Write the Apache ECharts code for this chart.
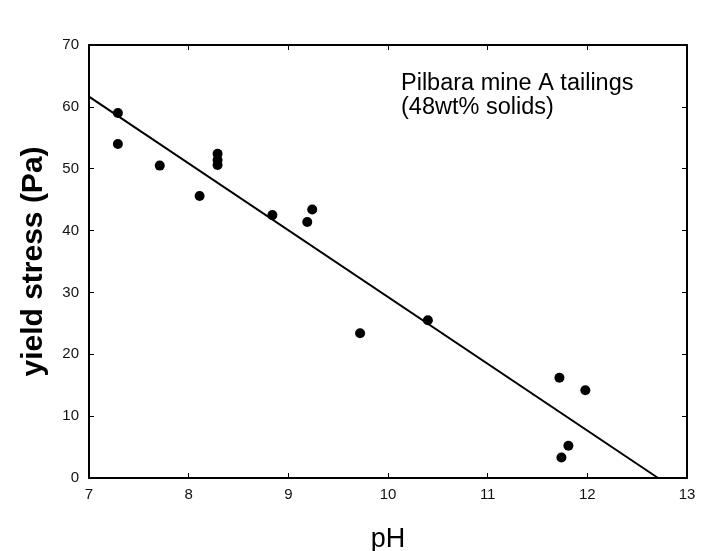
<!DOCTYPE html>
<html>
<head>
<meta charset="utf-8">
<script src="https://cdn.jsdelivr.net/npm/echarts@6/dist/echarts.min.js"></script>
<style>
html,body{margin:0;padding:0;background:#fff;}
#chart{width:707px;height:551px;}
</style>
</head>
<body>
<div id="chart"></div>
<script>
// Measured data
var phValues    = [7.29, 7.29, 7.71, 8.11, 8.29, 8.29, 8.29, 8.84, 9.19, 9.24, 9.72, 10.40, 11.72, 11.98, 11.81, 11.74];
var yieldStress = [59.0, 54.0, 50.5, 45.6, 52.4, 51.4, 50.6, 42.5, 41.4, 43.4, 23.4, 25.5, 16.2, 14.2, 5.2, 3.3];
var fitPH       = [7.0, 12.71];
var fitStress   = [61.65, 0];
var xTicks      = [7, 8, 9, 10, 11, 12, 13];
var yTicks      = [0, 10, 20, 30, 40, 50, 60, 70];
var noteLines   = ['Pilbara mine A tailings', '(48wt% solids)'];

var FONT = 'Arial, "Liberation Sans", sans-serif';
var points = phValues.map(function (x, i) { return [x, yieldStress[i]]; });
var fit = fitPH.map(function (x, i) { return [x, fitStress[i]]; });

var axisLine = { show: true, onZero: false, lineStyle: { color: '#000', width: 2 } };
var tick = { show: true, inside: true, length: 5, lineStyle: { color: '#000', width: 1 } };

var chart = echarts.init(document.getElementById('chart'), null, { renderer: 'canvas' });
chart.setOption({
  animation: false,
  backgroundColor: '#fff',
  grid: { left: 89, right: 20, top: 45, bottom: 73, containLabel: false, outerBoundsMode: 'none' },
  xAxis: [{
    type: 'value', min: xTicks[0], max: xTicks[xTicks.length - 1], interval: 1,
    position: 'bottom',
    axisLine: axisLine, axisTick: tick, splitLine: { show: false },
    axisLabel: { color: '#111', fontSize: 15, fontFamily: FONT, margin: 9 },
    name: 'pH', nameLocation: 'middle', nameGap: 48,
    nameTextStyle: { color: '#000', fontSize: 27, fontFamily: FONT }
  }, {
    type: 'value', min: xTicks[0], max: xTicks[xTicks.length - 1], interval: 1,
    position: 'top',
    axisLine: axisLine, axisTick: tick, splitLine: { show: false },
    axisLabel: { show: false }
  }],
  yAxis: [{
    type: 'value', min: yTicks[0], max: yTicks[yTicks.length - 1], interval: 10,
    position: 'left',
    axisLine: axisLine, axisTick: tick, splitLine: { show: false },
    axisLabel: { color: '#111', fontSize: 15, fontFamily: FONT, margin: 10 },
    name: 'yield stress (Pa)', nameLocation: 'middle', nameGap: 40,
    nameTextStyle: { color: '#000', fontSize: 30, fontWeight: 'bold', fontFamily: FONT }
  }, {
    type: 'value', min: yTicks[0], max: yTicks[yTicks.length - 1], interval: 10,
    position: 'right',
    axisLine: axisLine, axisTick: tick, splitLine: { show: false },
    axisLabel: { show: false }
  }],
  series: [{
    type: 'scatter', xAxisIndex: 0, yAxisIndex: 0,
    data: points, symbol: 'circle', symbolSize: 10,
    itemStyle: { color: '#000', opacity: 1 }, z: 3
  }, {
    type: 'line', xAxisIndex: 0, yAxisIndex: 0,
    data: fit, showSymbol: false, symbol: 'none',
    lineStyle: { color: '#000', width: 2 }, z: 2
  }],
  graphic: [{
    type: 'text', left: 401, top: 72,
    style: { text: noteLines.join('\n'), fill: '#000', font: '23.5px ' + FONT, lineHeight: 24 }
  }]
});
</script>
</body>
</html>
